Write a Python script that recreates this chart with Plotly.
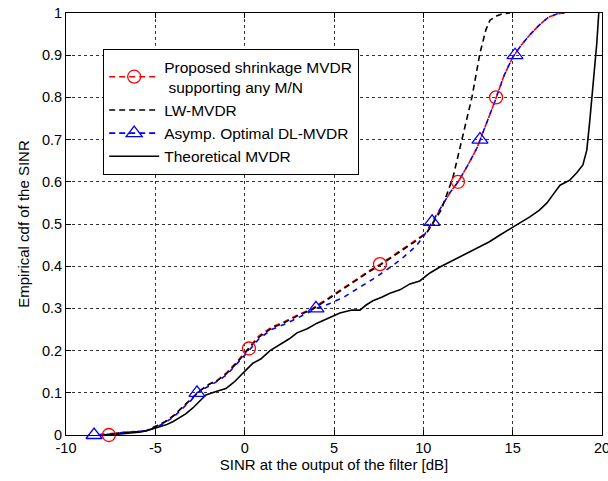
import plotly.graph_objects as go

# ---------------- data ----------------
prop_x = [-7.9, -7.0, -6.0, -5.5, -5.0, -4.5, -4.0, -3.5, -3.0, -2.5, -2.0, -1.5, -1.0, -0.5,
          0.2, 0.8, 1.5, 2.2, 3.0, 3.8, 4.6, 5.4, 6.2, 7.0, 7.6, 8.3, 9.0, 9.7, 10.2, 10.5,
          11.0, 11.5, 11.95, 12.5, 13.0, 13.5, 14.0, 14.5, 15.0, 15.5, 16.0, 16.5, 17.0, 17.5, 17.9]
prop_y = [0.0, 0.005, 0.008, 0.010, 0.020, 0.030, 0.045, 0.065, 0.085, 0.105, 0.120, 0.130, 0.148, 0.170,
          0.205, 0.235, 0.255, 0.268, 0.285, 0.300, 0.322, 0.345, 0.368, 0.390, 0.405, 0.425, 0.445, 0.465, 0.480, 0.500,
          0.540, 0.575, 0.600, 0.640, 0.680, 0.735, 0.790, 0.850, 0.895, 0.925, 0.950, 0.972, 0.990, 0.998, 1.0]
prop_mx = [-7.6, 0.24, 7.57, 11.94, 14.07]
prop_my = [0.0, 0.205, 0.405, 0.600, 0.800]

lw_x = [-7.9, -7.0, -6.0, -5.5, -5.0, -4.5, -4.0, -3.5, -3.0, -2.5, -2.0, -1.5, -1.0, -0.5,
        0.2, 0.8, 1.5, 2.2, 3.0, 3.8, 4.6, 5.4, 6.2, 7.0, 7.6, 8.3, 9.0, 9.7, 10.2, 10.6,
        11.0, 11.66, 12.2, 12.72, 13.17, 13.5, 13.73, 14.1, 14.4, 14.85]
lw_y = [0.0, 0.005, 0.008, 0.010, 0.020, 0.030, 0.045, 0.065, 0.085, 0.105, 0.120, 0.130, 0.146, 0.168,
        0.203, 0.232, 0.253, 0.266, 0.283, 0.298, 0.320, 0.343, 0.366, 0.388, 0.403, 0.423, 0.443, 0.463, 0.480, 0.505,
        0.533, 0.611, 0.706, 0.800, 0.905, 0.960, 0.983, 0.993, 0.998, 1.0]

dl_x = [-8.4, -7.5, -6.5, -5.5, -5.0, -4.5, -4.0, -3.5, -3.0, -2.67, -2.0, -1.5, -1.0, -0.5,
        0.2, 0.8, 1.5, 2.2, 3.0, 4.0, 4.8, 5.6, 6.4, 7.2, 8.0, 8.8, 9.6, 10.0, 10.5,
        11.0, 11.5, 11.95, 12.5, 13.0, 13.5, 14.0, 14.5, 15.0, 15.5, 16.0, 16.5, 17.0, 17.5, 17.9]
dl_y = [0.0, 0.004, 0.007, 0.010, 0.018, 0.028, 0.042, 0.062, 0.082, 0.100, 0.116, 0.128, 0.143, 0.165,
        0.198, 0.228, 0.250, 0.262, 0.278, 0.300, 0.312, 0.328, 0.348, 0.370, 0.393, 0.418, 0.448, 0.470, 0.505,
        0.540, 0.575, 0.600, 0.640, 0.680, 0.735, 0.790, 0.850, 0.895, 0.925, 0.950, 0.972, 0.990, 0.998, 1.0]
dl_mx = [-8.43, -2.67, 3.99, 10.49, 13.17, 15.13]
dl_my = [0.0, 0.100, 0.300, 0.505, 0.700, 0.900]

th_x = [-7.6, -6.5, -5.8, -5.35, -4.9, -4.4, -4.0, -3.7, -3.3, -2.9, -2.5, -2.17, -1.6, -1.05, -0.6, -0.3,
        0.1, 0.46, 0.9, 1.42, 2.0, 2.5, 2.93, 3.5, 4.05, 4.7, 5.33, 6.0, 6.45, 6.8, 7.18, 7.7, 8.13, 8.69,
        9.25, 9.8, 10.37, 10.93, 11.5, 12.05, 12.6, 13.17, 13.7, 14.29, 14.85, 15.4, 15.96, 16.5, 16.92,
        17.3, 17.65, 18.2, 18.6, 18.93, 19.15, 19.32, 19.49, 19.6, 19.71, 19.82]
th_y = [0.0, 0.004, 0.007, 0.012, 0.018, 0.024, 0.032, 0.040, 0.050, 0.064, 0.080, 0.095, 0.103, 0.110, 0.125, 0.137,
        0.155, 0.170, 0.180, 0.200, 0.215, 0.228, 0.242, 0.252, 0.265, 0.277, 0.289, 0.296, 0.296, 0.308, 0.318, 0.327, 0.336, 0.344,
        0.358, 0.365, 0.384, 0.398, 0.410, 0.422, 0.434, 0.446, 0.458, 0.474, 0.488, 0.502, 0.517, 0.533, 0.550,
        0.572, 0.592, 0.604, 0.622, 0.640, 0.675, 0.746, 0.825, 0.875, 0.929, 1.0]

x_ticks = [-10, -5, 0, 5, 10, 15, 20]
y_ticks = [0, 0.1, 0.2, 0.3, 0.4, 0.5, 0.6, 0.7, 0.8, 0.9, 1]
y_ticktext = ["0", "0.1", "0.2", "0.3", "0.4", "0.5", "0.6", "0.7", "0.8", "0.9", "1"]

names = ["Proposed shrinkage MVDR<br> supporting any M/N", "LW-MVDR",
         "Asymp. Optimal DL-MVDR", "Theoretical MVDR"]

# ---------------- figure ----------------
RED, BLUE, BLACK = "#ff0000", "#0000ff", "#000000"
DASH = "6px,4px"
LW = 1.6
fig = go.Figure()

fig.add_trace(go.Scatter(x=prop_x, y=prop_y, mode="lines", line=dict(color=RED, width=LW, dash=DASH),
                         showlegend=False, hoverinfo="skip"))
fig.add_trace(go.Scatter(x=lw_x, y=lw_y, mode="lines", line=dict(color=BLACK, width=LW, dash=DASH),
                         showlegend=False, hoverinfo="skip"))
fig.add_trace(go.Scatter(x=dl_x, y=dl_y, mode="lines", line=dict(color=BLUE, width=LW, dash="0px,5px,5px,0px"),
                         showlegend=False, hoverinfo="skip"))
fig.add_trace(go.Scatter(x=th_x, y=th_y, mode="lines", line=dict(color=BLACK, width=LW),
                         showlegend=False, hoverinfo="skip"))
fig.add_trace(go.Scatter(x=prop_mx, y=prop_my, mode="markers",
                         marker=dict(symbol="circle-open", size=13, color=RED, line=dict(width=1.3, color=RED)),
                         showlegend=False, cliponaxis=False))
fig.add_trace(go.Scatter(x=dl_mx, y=dl_my, mode="markers",
                         marker=dict(symbol="triangle-up-open", size=14, color=BLUE, line=dict(width=1.3, color=BLUE)),
                         showlegend=False, cliponaxis=False))

# legend entries
fig.add_trace(go.Scatter(x=[None], y=[None], mode="lines+markers", name=names[0],
                         line=dict(color=RED, width=LW, dash=DASH),
                         marker=dict(symbol="circle-open", size=13, color=RED, line=dict(width=1.3, color=RED))))
fig.add_trace(go.Scatter(x=[None], y=[None], mode="lines", name=names[1],
                         line=dict(color=BLACK, width=LW, dash=DASH)))
fig.add_trace(go.Scatter(x=[None], y=[None], mode="lines+markers", name=names[2],
                         line=dict(color=BLUE, width=LW, dash=DASH),
                         marker=dict(symbol="triangle-up-open", size=14, color=BLUE, line=dict(width=1.3, color=BLUE))))
fig.add_trace(go.Scatter(x=[None], y=[None], mode="lines", name=names[3],
                         line=dict(color=BLACK, width=LW)))

axis_common = dict(showline=True, linecolor="black", linewidth=1, mirror="ticks",
                   ticks="inside", ticklen=5, tickcolor="black",
                   showgrid=True, gridcolor="#333333", griddash="dot", gridwidth=1,
                   zeroline=False, tickfont=dict(size=14.5, color="black"),
                   ticklabeloverflow="allow", automargin=False)

fig.update_layout(
    width=608, height=481,
    margin=dict(l=66, r=6, t=13, b=46),
    paper_bgcolor="white", plot_bgcolor="white",
    font=dict(family="Liberation Sans, Arial, sans-serif", color="black"),
    xaxis=dict(range=[-10, 20], tickvals=x_ticks, ticktext=[str(v) for v in x_ticks],
               title=dict(text="SINR at the output of the filter [dB]", font=dict(size=15), standoff=2),
               **axis_common),
    yaxis=dict(range=[0, 1], tickvals=y_ticks, ticktext=y_ticktext,
               title=dict(text="Empirical cdf of the SINR", font=dict(size=15), standoff=8),
               **axis_common),
    legend=dict(x=0.069, y=0.915, xanchor="left", yanchor="top",
                bgcolor="white", bordercolor="black", borderwidth=1.2,
                font=dict(size=15.5, color="black"), itemwidth=50, tracegroupgap=0),
)

fig.write_html("out.html")
